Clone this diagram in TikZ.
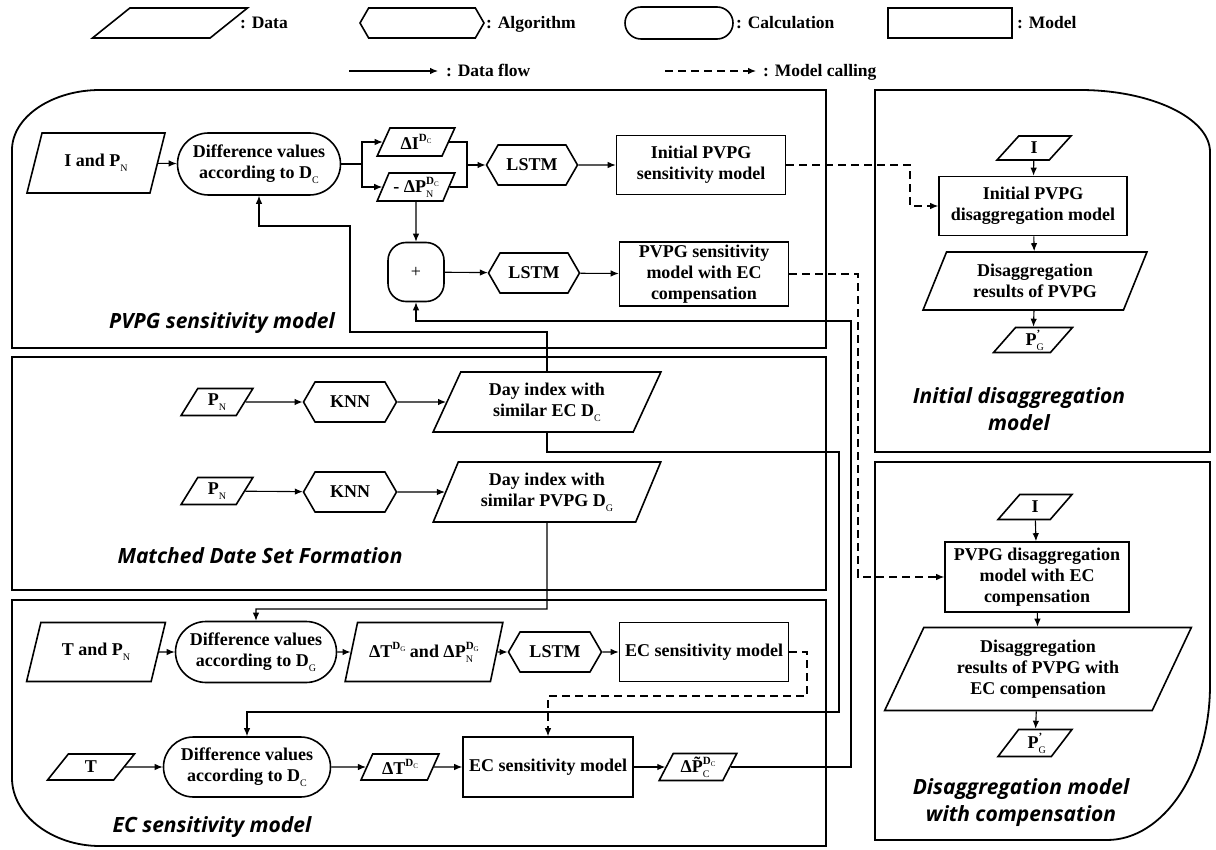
\documentclass[tikz,border=0pt]{standalone}
\usepackage{fontspec}
\setmainfont{Liberation Serif}
\newfontfamily\titlefont{Open Sans}
\usepackage{tikz}
\usetikzlibrary{                          % TikZ libraries
                shapes.geometric,         % .
                shapes.misc,              % .
                shapes.symbols,           % .
                arrows.meta,              % .
                positioning}
% indices written in text mode
\newcommand{\supix}[1]{\raisebox{0.45em}{\fontsize{11}{11}\selectfont #1}}
\newcommand{\subix}[1]{\raisebox{-0.28em}{\fontsize{10}{10}\selectfont\mdseries #1}}
\newcommand{\subtiny}[1]{\raisebox{-0.22em}{\fontsize{7}{7}\selectfont\mdseries #1}}
\newcommand{\supsubix}[2]{\rlap{\subix{#2}}\supix{#1}}

\begin{document}
\begin{tikzpicture}[x=1pt,y=-1pt,>={Latex[length=8pt,width=6.5pt]},
                    font=\fontsize{18}{21}\selectfont\bfseries
                    ]
                % define styles
\tikzset{data/.style={trapezium,
                      trapezium left angle=65,
                      trapezium right angle=115,
                      trapezium stretches=true,
                      draw=black,
                      line width=1.6pt,
                      inner sep=1pt,
                      align=center,
                      },
         algo/.style={signal,
                      signal to=east and west,
                      signal pointer angle=120,
                      draw=black,
                      line width=1.6pt,
                      inner sep=1pt,
                      },
         calc/.style={rounded rectangle,
                      draw=black,
                      line width=1.6pt,
                      inner sep=1pt,
                      align=center,
                      },
         model/.style={rectangle,
                       draw=black,
                       line width=1.6pt,
                       inner sep=0pt,
                       align=center,
                       },
         panel/.style={draw=black, line width=1.8pt},
         flow/.style={->, line width=1.1pt},
         call/.style={->, line width=1.1pt, dash pattern=on 8pt off 5pt},
         title/.style={font=\titlefont\fontsize{21}{27}\selectfont\bfseries\itshape, align=center},
         legend/.style={font=\fontsize{17.5}{20}\selectfont\bfseries, inner sep=0pt, anchor=base west}
}

\useasboundingbox (0,0) rectangle (1216,850);

% legend
\node[data, minimum width=155pt, minimum height=30pt] (ldata)  at (170,23) {};
\node[algo, minimum width=124pt, minimum height=30pt] (lalgo)  at (422,23) {};
\node[calc, minimum width=110pt, minimum height=32pt] (lcalc)  at (679,23) {};
\node[model, minimum width=124pt, minimum height=30pt] (lmodel) at (950,23) {};
\node[legend] (ldatat)  at (240,29)  {: Data};
\node[legend] (lalgot)  at (486,29)  {: Algorithm};
\node[legend] (lcalct)  at (736,29)  {: Calculation};
\node[legend] (lmodelt) at (1017,29) {: Model};
\coordinate (lflowa) at (349,71);
\coordinate (lflowb) at (438,71);
\coordinate (lcalla) at (665,71);
\coordinate (lcallb) at (756,71);
\draw[flow] (lflowa) -- (lflowb);
\draw[call] (lcalla) -- (lcallb);
\node[legend] (lflowt) at (446,77) {: Data flow};
\node[legend] (lcallt) at (763,77) {: Model calling};

% panels
\draw[panel] (826,348) -- (12,348) -- (12,150) .. controls (12,117) and (52,90) .. (100,90) -- (826,90) -- cycle;
\draw[panel] (12,357) rectangle (826,590);
\draw[panel] (826,600) -- (12,600) -- (12,778) .. controls (12,815) and (52,846) .. (100,846) -- (826,846) -- cycle;
\draw[panel] (875,452) -- (875,90) -- (1080,90) .. controls (1151,90) and (1210,118) .. (1210,152) -- (1210,452) -- cycle;
\draw[panel] (875,462) -- (1210,462) -- (1210,685) .. controls (1210,770) and (1164,840) .. (1107,840) -- (875,840) -- cycle;

% PVPG sensitivity model
\node[data, minimum width=139pt, minimum height=60pt] (ipn)    at (96,163)  {I and P\subix{N}};
\node[calc, minimum width=165pt, minimum height=62pt] (diffc)  at (259,164) {Difference values\\according to D\subix{C}};
\node[data, minimum width=78pt, minimum height=28pt]  (di)     at (416,142) {ΔI\supix{D\subtiny{C}}};
\node[data, minimum width=78pt, minimum height=28pt]  (dpn)    at (416,187) {- ΔP\supsubix{D\subtiny{C}}{N}};
\node[algo, minimum width=91pt, minimum height=40pt]  (lstma)  at (532,165) {LSTM};
\node[model, minimum width=169pt, minimum height=59pt] (initsens) at (701,165) {Initial PVPG\\sensitivity model};
\node[draw=black, line width=1.6pt, rounded corners=18pt,
      minimum width=56pt, minimum height=59pt, font=\fontsize{18}{21}\selectfont] (plus) at (416,272) {+};
\node[algo, minimum width=91pt, minimum height=40pt]  (lstmb)  at (534,273) {LSTM};
\node[model, minimum width=169pt, minimum height=64pt] (ecsens) at (704,274) {PVPG sensitivity\\model with EC\\compensation};
\node[title] (tpvpg) at (222,323) {PVPG sensitivity model};

% matched date set formation
\node[data, minimum width=72pt, minimum height=27pt]  (pna)    at (217,402) {P\subix{N}};
\node[algo, minimum width=93pt, minimum height=40pt]  (knna)   at (350,402) {KNN};
\node[data, minimum width=228pt, minimum height=60pt] (dayc)   at (547,402) {Day index with\\similar EC D\subix{C}};
\node[data, minimum width=72pt, minimum height=27pt]  (pnb)    at (217,491) {P\subix{N}};
\node[algo, minimum width=93pt, minimum height=40pt]  (knnb)   at (350,492) {KNN};
\node[data, minimum width=228pt, minimum height=60pt] (dayg)   at (547,492) {Day index with\\similar PVPG D\subix{G}};
\node[title] (tmatch) at (260,556) {Matched Date Set Formation};

% EC sensitivity model
\node[data, minimum width=139pt, minimum height=59pt] (tpn)    at (96,652)  {T and P\subix{N}};
\node[calc, minimum width=163pt, minimum height=61pt] (diffg)  at (256,652) {Difference values\\according to D\subix{G}};
\node[data, minimum width=158pt, minimum height=59pt] (dtg)    at (424,652) {ΔT\supix{D\subtiny{G}} and ΔP\supsubix{D\subtiny{G}}{N}};
\node[algo, minimum width=93pt, minimum height=40pt]  (lstmc)  at (555,652) {LSTM};
\node[model, minimum width=169pt, minimum height=59pt] (ecma)  at (704,652) {EC sensitivity model};
\node[data, minimum width=87pt, minimum height=26pt]  (tt)     at (91,767)  {T};
\node[calc, minimum width=169pt, minimum height=60pt] (diffc2) at (247,767) {Difference values\\according to D\subix{C}};
\node[data, minimum width=78pt, minimum height=26pt]  (dtc)    at (400,767) {ΔT\supix{D\subtiny{C}}};
\node[model, minimum width=170pt, minimum height=60pt] (ecmb)  at (548,767) {EC sensitivity model};
\node[data, minimum width=78pt, minimum height=27pt]  (dpc)    at (698,767) {Δ\~{P}\supsubix{D\subtiny{C}}{C}};
\node[title] (tec) at (212,827) {EC sensitivity model};

% initial disaggregation model
\node[data, minimum width=74pt, minimum height=24pt]  (ia)     at (1034,148) {I};
\node[model, minimum width=188pt, minimum height=59pt] (initdis) at (1033,206) {Initial PVPG\\disaggregation model};
\node[data, minimum width=224pt, minimum height=58pt] (disres) at (1035,281) {Disaggregation\\results of PVPG};
\node[data, minimum width=79pt, minimum height=25pt]  (pga)    at (1033,340) {P\supsubix{'}{G}};
\node[title] (tinit) at (1019,409) {Initial disaggregation\\model};

% disaggregation model with compensation
\node[data, minimum width=74pt, minimum height=25pt]  (ib)     at (1035,507) {I};
\node[model, minimum width=184pt, minimum height=70pt] (pvdisec) at (1037,577) {PVPG disaggregation\\model with EC\\compensation};
\node[data, minimum width=307pt, minimum height=83pt] (disresec) at (1038,669) {Disaggregation\\results of PVPG with\\EC compensation};
\node[data, minimum width=74pt, minimum height=27pt]  (pgb)    at (1035,743) {P\supsubix{'}{G}};
\node[title] (tcomp) at (1021,803) {Disaggregation model\\with compensation};

% bend points
\coordinate (splita) at (362,164);
\coordinate (joina)  at (467,165);
\coordinate (benda)  at (910,165);
\coordinate (bendb)  at (858,274);
\coordinate (fa1)    at (350,332);
\coordinate (fa2)    at (350,226);
\coordinate (fb1)    at (839,452);
\coordinate (fb2)    at (839,712);
\coordinate (fc1)    at (547,609);
\coordinate (fd1)    at (851,321);
\coordinate (ca1)    at (807,696);

% data flow
\draw[flow] (ipn) -- (diffc);
\draw[line width=1.1pt] (diffc.east) -- (splita);
\draw[flow] (splita) |- (di.west);
\draw[flow] (splita) |- (dpn.west);
\draw[line width=1.1pt] (di.east) -| (joina);
\draw[line width=1.1pt] (dpn.east) -| (joina);
\draw[flow] (joina) -- (lstma.west);
\draw[flow] (lstma) -- (initsens);
\draw[flow] (dpn.south) -- (plus.north);
\draw[flow] (plus) -- (lstmb);
\draw[flow] (lstmb) -- (ecsens);

\draw[flow] (pna) -- (knna);
\draw[flow] (knna) -- (dayc);
\draw[flow] (pnb) -- (knnb);
\draw[flow] (knnb) -- (dayg);

\draw[flow] (tpn) -- (diffg);
\draw[flow] (diffg) -- (dtg);
\draw[flow] (dtg) -- (lstmc);
\draw[flow] (lstmc) -- (ecma);
\draw[flow] (tt) -- (diffc2);
\draw[flow] (diffc2) -- (dtc);
\draw[flow] (dtc) -- (ecmb);
\draw[flow] (ecmb) -- (dpc);

\draw[flow] (dayc.north) |- (fa1) -- (fa2) -| (diffc.south);
\draw[flow] (dayc.south) |- (fb1) -- (fb2) -| (diffc2.north);
\draw[flow] (dayg.south) -- (fc1) -| (diffg.north);
\draw[flow] (dpc.east) -| (fd1) -| (plus.south);

\draw[flow] (ia) -- (initdis);
\draw[flow] (initdis) -- (disres);
\draw[flow] (disres) -- (pga);
\draw[flow] (ib) -- (pvdisec);
\draw[flow] (pvdisec) -- (disresec);
\draw[flow] (disresec) -- (pgb);

% model calling
\draw[call] (initsens.east) -- (benda) |- (initdis.west);
\draw[call] (ecsens.east) -- (bendb) |- (pvdisec.west);
\draw[call] (ecma.east) -| (ca1) -| (ecmb.north);

\end{tikzpicture}
\end{document}
